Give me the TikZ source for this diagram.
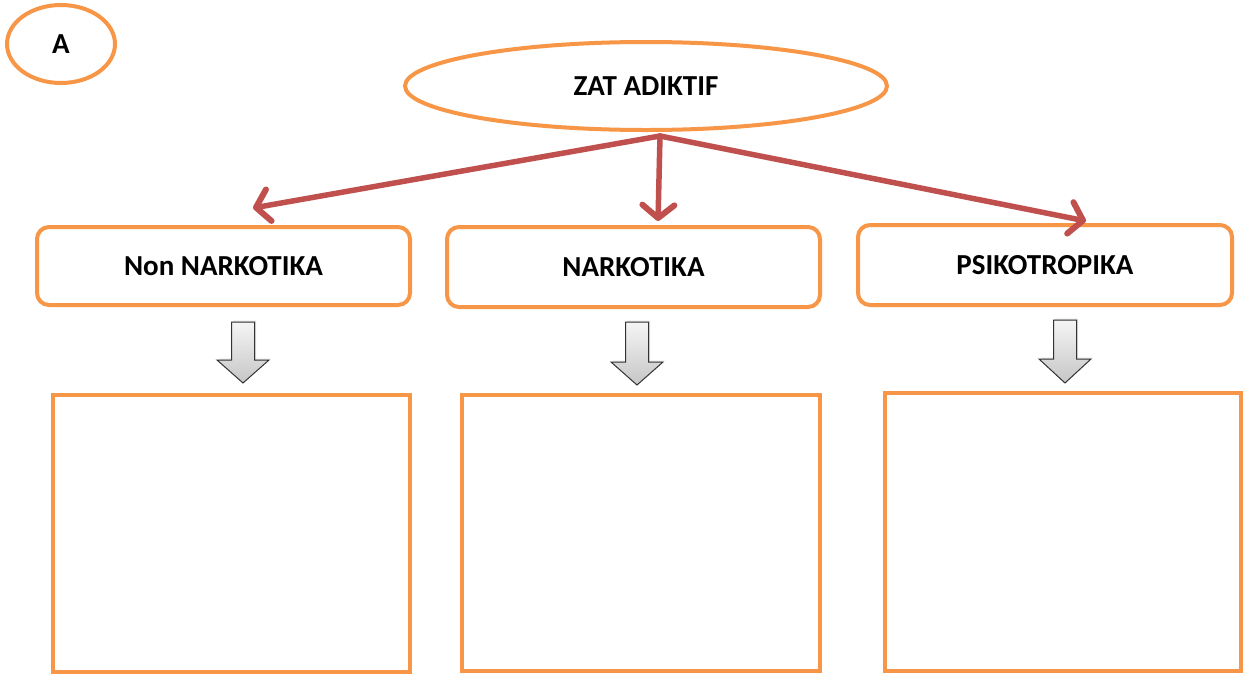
\documentclass[tikz,border=0pt]{standalone}
\usepackage{fontspec}
\setmainfont{Carlito}
\usetikzlibrary{arrows.meta,shapes.geometric,shadows}
\definecolor{org}{HTML}{F79646}
\definecolor{rd}{HTML}{C0504D}
\tikzset{
  every node/.style={font=\bfseries\fontsize{29}{34}\selectfont},
  oval/.style={ellipse, draw=org, line width=4, fill=white, inner sep=0},
  catbox/.style={draw=org, line width=4, rounded corners=12, fill=white, inner sep=0},
  emptybox/.style={draw=org, line width=4, fill=white, inner sep=0},
  redarrow/.style={draw=rd, line width=5.5, line cap=round, -{Straight Barb[length=13,width=32,line width=6,round]}},
  blockarrow/.style={draw=black!80, line width=1, top color=gray!8, bottom color=gray!45, drop shadow={shadow xshift=1.5, shadow yshift=-1.5, opacity=0.25}}
}
\begin{document}
\begin{tikzpicture}[x=1pt,y=-1pt]
\useasboundingbox (0,0) rectangle (1249,673);
\node[oval, minimum width=108, minimum height=78] (a) at (61,44) {A};
\node[oval, minimum width=482, minimum height=88] (zat) at (646,86) {ZAT ADIKTIF};
\node[catbox, minimum width=373, minimum height=78] (non) at (223.5,266) {Non NARKOTIKA};
\node[catbox, minimum width=373, minimum height=80] (nar) at (633.5,267) {NARKOTIKA};
\node[catbox, minimum width=374, minimum height=80] (psi) at (1045,265) {PSIKOTROPIKA};
\node[emptybox, minimum width=357, minimum height=277] (b1) at (231.5,533.5) {};
\node[emptybox, minimum width=358, minimum height=276] (b2) at (641,533) {};
\node[emptybox, minimum width=356, minimum height=278] (b3) at (1063,532) {};
\coordinate (src) at (660,136);
\coordinate (t1) at (253,208);
\coordinate (t2) at (658,221);
\coordinate (t3) at (1086,221);
\draw[redarrow] (src) -- (t1);
\draw[redarrow] (src) -- (t2);
\draw[redarrow] (src) -- (t3);
% block arrows
\foreach \cx/\ty/\hy/\by in {243/322/360/383, 637/322/362/385, 1065/320/359/383}{
  \path[blockarrow] (\cx-11.5,\ty) -- (\cx+11.5,\ty) -- (\cx+11.5,\hy) -- (\cx+26,\hy) -- (\cx,\by) -- (\cx-26,\hy) -- (\cx-11.5,\hy) -- cycle;
}
\end{tikzpicture}
\end{document}
